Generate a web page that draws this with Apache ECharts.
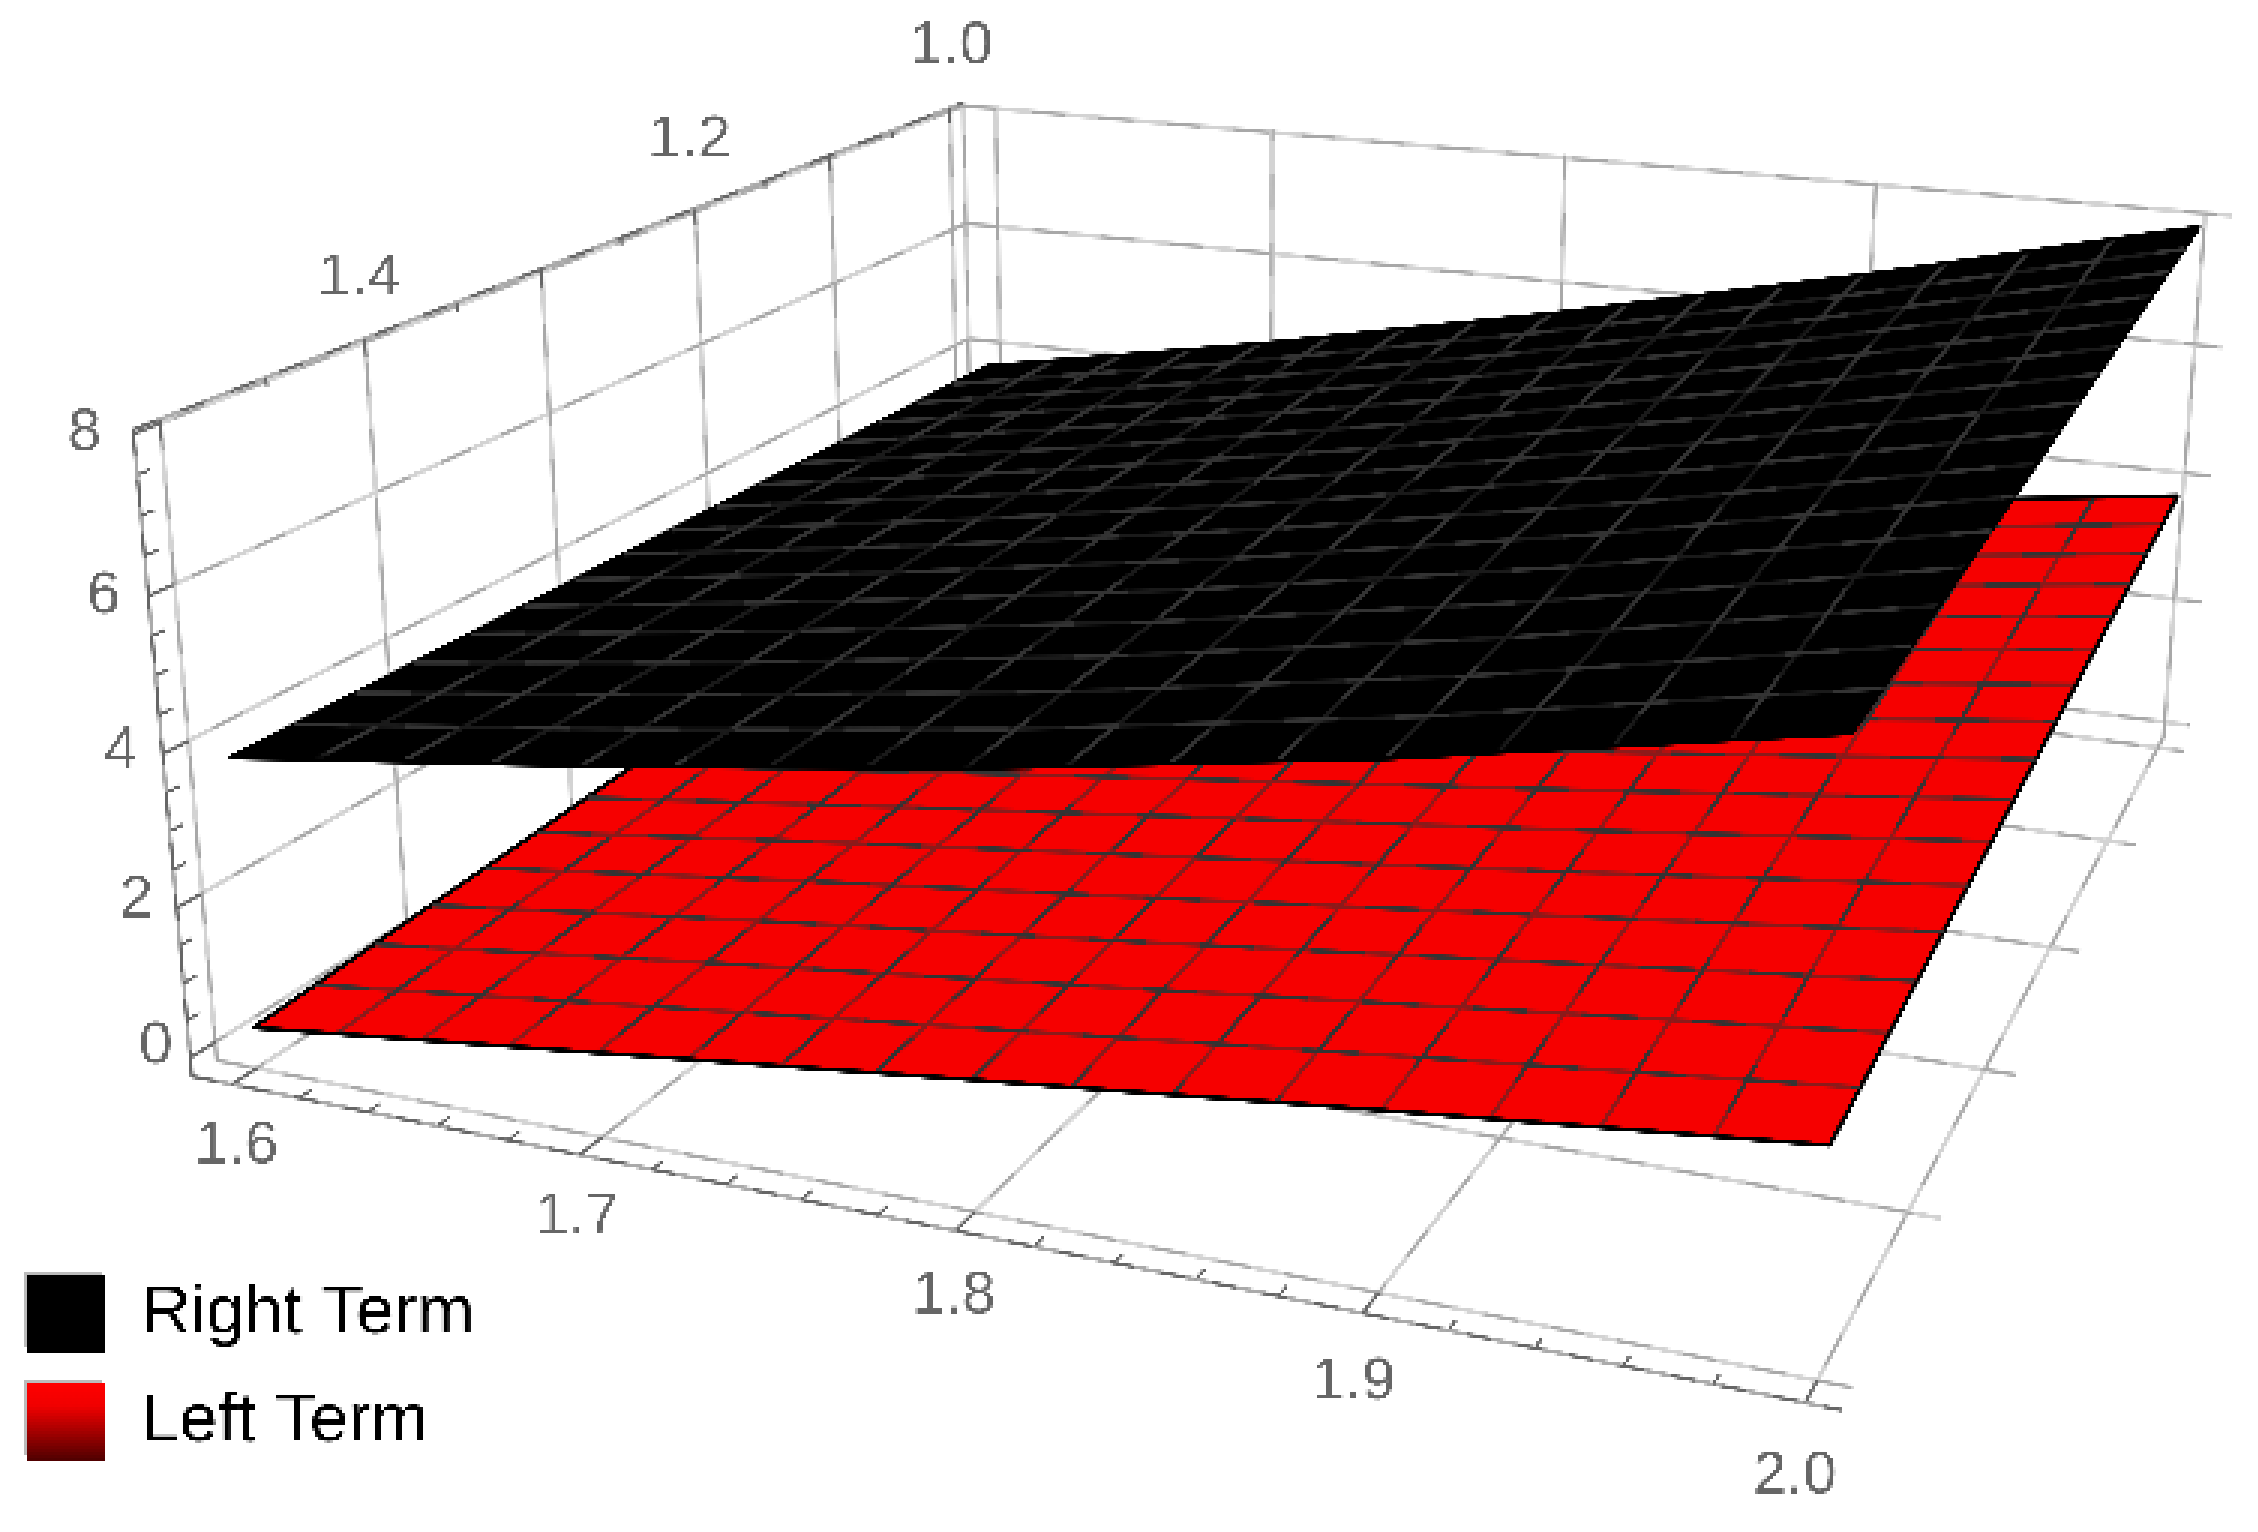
<!DOCTYPE html>
<html><head><meta charset="utf-8">
<style>html,body{margin:0;padding:0;background:#fff;overflow:hidden}
#c{width:2258px;height:1532px;background:#fff;filter:url(#rasterLook)}</style>
<script src="https://cdn.jsdelivr.net/npm/echarts@6/dist/echarts.min.js"></script>
</head><body>
<svg width="0" height="0" style="position:absolute"><defs>
<filter id="rasterLook" x="0" y="0" width="100%" height="100%" color-interpolation-filters="sRGB">
<feFlood x="1" y="1" width="1" height="1" flood-color="#000"/>
<feComposite width="3" height="3"/>
<feTile result="a"/>
<feComposite in="SourceGraphic" in2="a" operator="in"/>
<feMorphology operator="dilate" radius="1"/>
</filter></defs></svg>
<div id="c"></div>
<script>
// ---- data ----
const tableX = [1.6, 1.7, 1.8, 1.9, 2.0];
const tableY = [1.0, 1.1, 1.2, 1.3, 1.4, 1.5];
const rightTerm = [
  [3.70, 4.60, 5.60, 6.70, 7.90],
  [3.73, 4.58, 5.52, 6.58, 7.73],
  [3.76, 4.56, 5.45, 6.45, 7.56],
  [3.80, 4.54, 5.37, 6.32, 7.39],
  [3.83, 4.52, 5.28, 6.18, 7.22],
  [3.87, 4.50, 5.20, 6.05, 7.05]
];
const leftTerm = [
  [1.00, 1.70, 2.40, 3.10, 3.78],
  [0.86, 1.53, 2.20, 2.87, 3.54],
  [0.72, 1.36, 2.00, 2.64, 3.29],
  [0.58, 1.20, 1.80, 2.40, 3.04],
  [0.44, 1.04, 1.60, 2.19, 2.78],
  [0.30, 0.86, 1.42, 1.97, 2.50]
];
const meshX = [1.6,1.625,1.65,1.675,1.7,1.725,1.75,1.775,1.8,1.825,1.85,1.875,1.9,1.925,1.95,1.975,2.0];
const meshY = [1.0,1.03125,1.0625,1.09375,1.125,1.15625,1.1875,1.21875,1.25,1.28125,1.3125,1.34375,1.375,1.40625,1.4375,1.46875,1.5];
const xTicks = [1.6, 1.7, 1.8, 1.9, 2.0];
const xTickLabels = ['1.6', '1.7', '1.8', '1.9', '2.0'];
const yGrid = [1.0, 1.1, 1.2, 1.3, 1.4, 1.5];
const yTicks = [1.0, 1.2, 1.4];
const yTickLabels = ['1.0', '1.2', '1.4'];
const zTicks = [0, 2, 4, 6, 8];
const zTickLabels = ['0', '2', '4', '6', '8'];
const legendNames = ['Right Term', 'Left Term'];

// ---- plot box ----
const xL = 1.588, xR = 2.008, yB = 0.988, yF = 1.512, zF = -0.25, zT = 8.05;

// ---- camera, fitted to the six visible box corners (data -> reference pixels) ----
const S = 1.44;
const cameraAnchors = [
  [1.6,  yB,  8,  692,  75],
  [2.0,  yB,  8, 1531, 147],
  [2.0,  yB,  0, 1503, 503],
  [2.0,  1.5, zF, 1263, 958],
  [xL,   1.5, zF, 150, 735],
  [xL,   1.5, 8,  111, 296]
];
function norm(p){ return [(p[0]-1.6)/0.4, (p[1]-1)/0.5, p[2]/8, 1]; }
function fitCamera(){
  const rows=[], rhs=[];
  cameraAnchors.forEach(a=>{
    const U=norm(a), px=a[3]*S, py=a[4]*S;
    rows.push([U[0],U[1],U[2],U[3],0,0,0,0,-px*U[0],-px*U[1],-px*U[2]]); rhs.push(px);
    rows.push([0,0,0,0,U[0],U[1],U[2],U[3],-py*U[0],-py*U[1],-py*U[2]]); rhs.push(py);
  });
  const n=11, A=[];
  for(let i=0;i<n;i++){ A[i]=new Array(n+1).fill(0);
    for(let j=0;j<n;j++) rows.forEach(r=>{A[i][j]+=r[i]*r[j];});
    rows.forEach((r,k)=>{A[i][n]+=r[i]*rhs[k];});
  }
  for(let i=0;i<n;i++){
    let m=i; for(let k=i+1;k<n;k++) if(Math.abs(A[k][i])>Math.abs(A[m][i])) m=k;
    [A[i],A[m]]=[A[m],A[i]];
    for(let k=0;k<n;k++) if(k!==i){ const f=A[k][i]/A[i][i]; for(let j=i;j<=n;j++) A[k][j]-=f*A[i][j]; }
  }
  return A.map((r,i)=>r[n]/r[i]);
}
const cam = fitCamera();
function project(x,y,z){
  const U=norm([x,y,z]);
  const w=cam[8]*U[0]+cam[9]*U[1]+cam[10]*U[2]+1;
  return [(cam[0]*U[0]+cam[1]*U[1]+cam[2]*U[2]+cam[3])/w,
          (cam[4]*U[0]+cam[5]*U[1]+cam[6]*U[2]+cam[7])/w];
}
function lookup(table,x,y){
  let i=Math.min(tableX.length-2,Math.max(0,Math.floor((x-1.6)/0.1+1e-9)));
  let j=Math.min(tableY.length-2,Math.max(0,Math.floor((y-1)/0.1+1e-9)));
  const s=(x-tableX[i])/0.1, t=(y-tableY[j])/0.1;
  return (table[j][i]*(1-s)+table[j][i+1]*s)*(1-t)+(table[j+1][i]*(1-s)+table[j+1][i+1]*s)*t;
}

// ---- segments of the box, its grid and its axes ----
const gridSegs=[], axisSegs=[];
xTicks.forEach(x=>{ gridSegs.push([x,yB,zF,x,yB,zT]); gridSegs.push([x,yB,zF,x,yF,zF]); });
yGrid.forEach(y=>{ gridSegs.push([xL,y,zF,xL,y,zT]); gridSegs.push([xL,y,zF,xR,y,zF]); });
gridSegs.push([xL,yB,zF,xL,yB,zT]);
zTicks.forEach(z=>{ gridSegs.push([xL,yB,z,xL,yF,z]); gridSegs.push([xL,yB,z,xR,yB,z]); });
axisSegs.push([xL,yF,zF,xR,yF,zF]);
axisSegs.push([xL,yF,zF,xL,yF,zT]);
axisSegs.push([xL,yF,zT,xL,yB,zT]);
const tickSegs=[];
for(let k=0;k<=20;k++){ const x=1.6+k*0.02, big=k%5===0; tickSegs.push([x,yF,zF,x,yF-(big?0.012:0.006),zF]); }
for(let k=0;k<=16;k++){ const z=k*0.5, big=k%4===0; tickSegs.push([xL,yF,z,xL,yF-(big?0.012:0.006),z]); }
for(let k=0;k<=10;k++){ const y=1+k*0.05, big=k%2===0; tickSegs.push([xL,y,zT,xL,y,zT-(big?0.25:0.12)]); }

function segSeries(name,segs,color,width,z,dash){
  return {type:'custom',name,coordinateSystem:'cartesian2d',silent:true,animation:false,z,clip:false,
    encode:{x:0,y:1},data:segs,
    renderItem:(p,api)=>{
      const a=project(api.value(0),api.value(1),api.value(2)), b=project(api.value(3),api.value(4),api.value(5));
      const ca=api.coord(a), cb=api.coord(b);
      return {type:'line',shape:{x1:ca[0],y1:ca[1],x2:cb[0],y2:cb[1]},style:{stroke:color,lineWidth:width,fill:null,lineDash:dash||null}};
    }};
}
function surfaceSeries(name,table,fill,meshA,meshB,edge,z){
  const cells=[], lines=[];
  for(let j=0;j<meshY.length-1;j++) for(let i=0;i<meshX.length-1;i++) cells.push([i,j]);
  const out={type:'custom',name,coordinateSystem:'cartesian2d',silent:true,animation:false,z,clip:false,
    itemStyle:{color:fill},encode:{x:0,y:1},data:cells,
    renderItem:(p,api)=>{
      const i=api.value(0), j=api.value(1);
      const corner=(a,b)=>api.coord(project(meshX[a],meshY[b],lookup(table,meshX[a],meshY[b])));
      return {type:'polygon',shape:{points:[corner(i,j),corner(i+1,j),corner(i+1,j+1),corner(i,j+1)]},
        style:{fill:fill,stroke:fill,lineWidth:1.5}};
    }};
  meshX.forEach((x,k)=>lines.push([0,k]));
  meshY.forEach((y,k)=>lines.push([1,k]));
  const meshPass=(color,dash,zz)=>({type:'custom',name,coordinateSystem:'cartesian2d',silent:true,animation:false,z:zz,clip:false,
    encode:{x:0,y:1},data:lines,
    renderItem:(p,api)=>{
      const dir=api.value(0), k=api.value(1);
      const pts=(dir===0?meshY:meshX).map(v=>{
        const x=dir===0?meshX[k]:v, y=dir===0?v:meshY[k];
        return api.coord(project(x,y,lookup(table,x,y)));
      });
      const border=k===0||k===16;
      return {type:'polyline',shape:{points:pts},style:{fill:null,stroke:border?edge:color,lineWidth:4,lineDash:border?null:dash}};
    }});
  return [out,meshPass(meshA,null,z+1),meshPass(meshB,[55,55],z+2)];
}
function labelSeries(name,vals,texts,pos,offs){
  return {type:'custom',name,coordinateSystem:'cartesian2d',silent:true,animation:false,z:20,clip:false,
    encode:{x:0,y:1},data:vals.map((v,i)=>[v,i]),
    renderItem:(p,api)=>{
      const v=api.value(0), i=api.value(1);
      const c=api.coord(project.apply(null,pos(v)));
      return {type:'text',x:c[0]+offs[i][0]*S,y:c[1]+offs[i][1]*S,
        style:{text:texts[i],fontFamily:'Liberation Sans',fontSize:60,fill:'#666666',align:'center',verticalAlign:'middle'}};
    }};
}
const redGrad=new echarts.graphic.LinearGradient(0,0,0,1,[{offset:0,color:'#ff0000'},{offset:0.3,color:'#f00000'},{offset:1,color:'#500000'}]);
const option={
  backgroundColor:'#fff',animation:false,
  grid:{left:0,right:0,top:0,bottom:0,containLabel:false},
  xAxis:{type:'value',min:0,max:2258,show:false},
  yAxis:{type:'value',min:0,max:1532,inverse:true,show:false},
  legend:{orient:'vertical',left:28,top:1275,itemWidth:78,itemHeight:77,itemGap:31,padding:0,selectedMode:false,
    textStyle:{fontFamily:'Liberation Sans',fontSize:69,color:'#000',padding:[0,0,8,30]},
    data:[
      {name:legendNames[0],icon:'rect',itemStyle:{color:'#000',shadowColor:'#bbb',shadowOffsetX:-4,shadowOffsetY:-4,shadowBlur:0}},
      {name:legendNames[1],icon:'rect',itemStyle:{color:redGrad,shadowColor:'#bbb',shadowOffsetX:-4,shadowOffsetY:-4,shadowBlur:0}}
    ]},
  series:[
    segSeries('grid',gridSegs,'#d3d3d3',4.5,1),
    segSeries('gridDark',gridSegs,'#a8a8a8',3,2,[34,34]),
    ...surfaceSeries(legendNames[1],leftTerm,'#f60000','#8b1a1a','#333333','#000',5),
    ...surfaceSeries(legendNames[0],rightTerm,'#000000','#1a1a1a','#333333','#000',9),
    segSeries('axes',axisSegs,'#aaaaaa',4,13),
    segSeries('axesDark',axisSegs,'#666666',3,14,[26,26]),
    segSeries('ticks',tickSegs,'#666666',3,14),
    labelSeries('xLabels',xTicks,xTickLabels,v=>[v-(v-1.6)*0.015,yF,zF],[[3,43],[2,44],[7,47],[7,51],[12,55]]),
    labelSeries('yLabels',yTicks,yTickLabels,v=>[xL,v,zT],[[1,-43],[-4,-47],[-4,-42]]),
    labelSeries('zLabels',zTicks,zTickLabels,v=>[xL,yF,v],[[-24,-8],[-28,-5],[-29,-2],[-31,0],[-34,0]])
  ]
};
const chart=echarts.init(document.getElementById('c'),null,{width:2258,height:1532});
chart.setOption(option);
</script></body></html>
